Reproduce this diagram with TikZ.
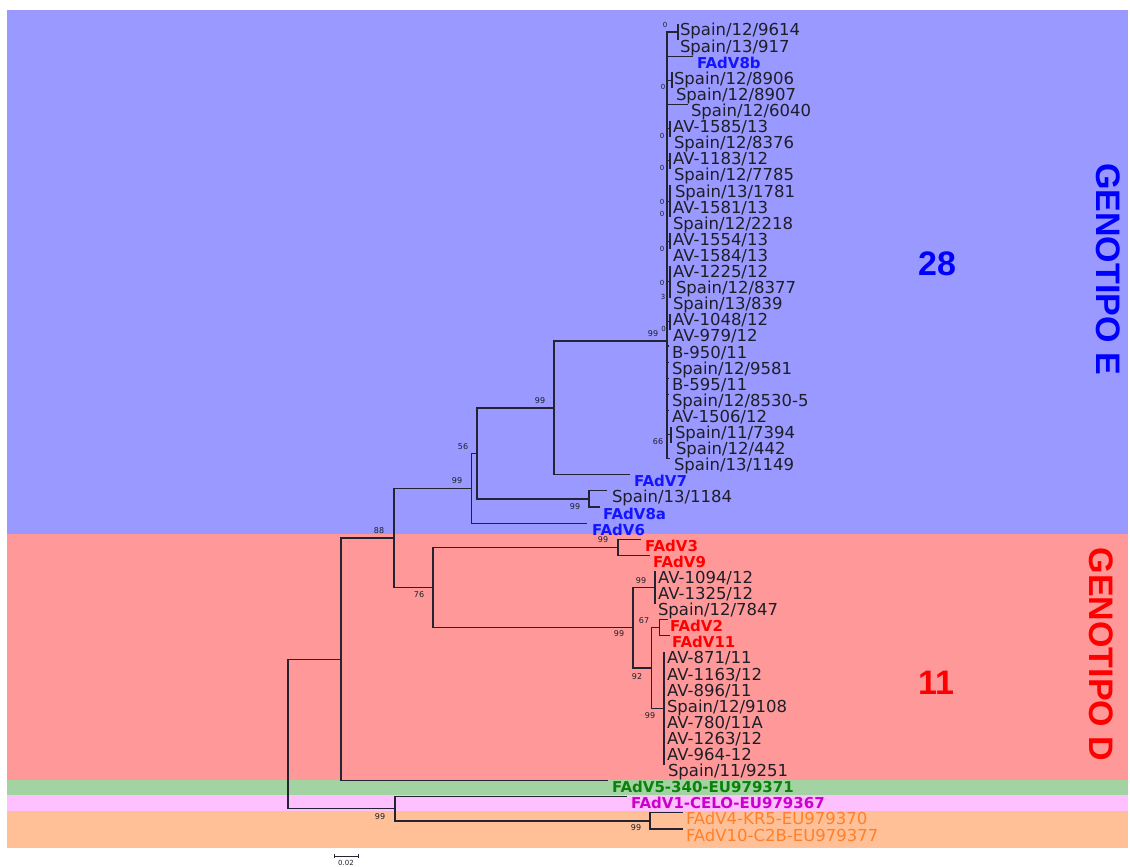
\documentclass[tikz,border=0pt]{standalone}
\usepackage{fontspec}
\setmainfont{DejaVu Sans}
\newfontfamily\gfont{Liberation Sans}
\definecolor{bandblue}{RGB}{153,153,255}
\definecolor{bandred}{RGB}{255,153,153}
\definecolor{bandgreen}{RGB}{163,210,163}
\definecolor{bandpink}{RGB}{255,192,255}
\definecolor{bandorange}{RGB}{255,192,152}
\definecolor{fblue}{RGB}{20,20,255}
\definecolor{fred}{RGB}{255,0,0}
\definecolor{fgreen}{RGB}{10,130,10}
\definecolor{fmag}{RGB}{204,0,204}
\definecolor{forange}{RGB}{255,128,40}
\definecolor{txtc}{RGB}{30,30,40}
\definecolor{treec}{RGB}{35,35,50}
\definecolor{bsc}{RGB}{30,30,40}
% leaf: name, x of line end, row, x of text, style, text
\newcommand\lf[6]{%
  \coordinate (#1) at (#2,{24+16.1*#3});
  \node[#5] (#1t) at (#4,{36+16.1*#3}) {#6};}
\begin{document}
\begin{tikzpicture}[x=1pt,y=-1pt,
  br/.style={draw=treec, line width=1.1pt},
  lab/.style={anchor=base west, inner sep=0pt, outer sep=0pt, text=txtc, font=\fontsize{16.5}{18}\selectfont},
  blab/.style={anchor=base west, inner sep=0pt, outer sep=0pt, font=\fontsize{15}{17}\selectfont\bfseries},
  olab/.style={anchor=base west, inner sep=0pt, outer sep=0pt, text=forange, font=\fontsize{16.5}{18}\selectfont},
  bs/.style={inner sep=0pt, text=bsc, font=\fontsize{8}{9}\selectfont},
  zs/.style={inner sep=0pt, text=bsc, font=\fontsize{7}{8}\selectfont},
  geno/.style={inner sep=0pt, rotate=-90, font=\gfont\bfseries\fontsize{34}{40}\selectfont},
  num/.style={inner sep=0pt, font=\gfont\bfseries\fontsize{34}{40}\selectfont},
]
\useasboundingbox (0,0) rectangle (1130,867);
\fill[white] (0,0) rectangle (1130,867);
% colour bands
\fill[bandblue] (7,10) rectangle (1128,534);
\fill[bandred] (7,534) rectangle (1128,780);
\fill[bandgreen] (7,780) rectangle (1128,795);
\fill[bandpink] (7,795) rectangle (1128,811);
\fill[bandorange] (7,811) rectangle (1128,848);

% internal nodes
\coordinate (R) at (288,734.2);
\coordinate (N342) at (341,659.4);
\coordinate (N395) at (394,538);
\coordinate (N471) at (471.5,488.3);
\coordinate (N477) at (477,453.5);
\coordinate (N554) at (554,408);
\coordinate (M) at (667,341);
\coordinate (N589) at (589,499);
\coordinate (N433) at (433,587.6);
\coordinate (N618) at (618,547.25);
\coordinate (N633) at (633,627.75);
\coordinate (N655) at (655,587.5);
\coordinate (N651) at (651.5,668);
\coordinate (N660) at (659.5,627.75);
\coordinate (N664) at (664,708.25);
\coordinate (Nb395) at (395,808.9);
\coordinate (N650) at (650,821);
\coordinate (T1) at (678,32);
\coordinate (T2) at (672,80.35);
\coordinate (T3) at (670,128.65);
\coordinate (T4) at (670,160.85);
\coordinate (T5) at (670,201.1);
\coordinate (T6) at (670,241.35);
\coordinate (T7) at (670,281.6);
\coordinate (T8) at (670,321.85);
\coordinate (T9) at (671,434.55);

% leaves
\lf{a0}{678}{0}{680}{lab}{Spain/12/9614}
\lf{a1}{678}{1}{680}{lab}{Spain/13/917}
\lf{a2}{693}{2}{697}{blab,text=fblue}{FAdV8b}
\lf{a3}{672}{3}{674}{lab}{Spain/12/8906}
\lf{a4}{672}{4}{676}{lab}{Spain/12/8907}
\lf{a5}{688}{5}{691}{lab}{Spain/12/6040}
\lf{a6}{670}{6}{673}{lab}{AV-1585/13}
\lf{a7}{670}{7}{674}{lab}{Spain/12/8376}
\lf{a8}{670}{8}{673}{lab}{AV-1183/12}
\lf{a9}{670}{9}{674}{lab}{Spain/12/7785}
\lf{a10}{670}{10}{675}{lab}{Spain/13/1781}
\lf{a11}{670}{11}{673}{lab}{AV-1581/13}
\lf{a12}{670}{12}{673}{lab}{Spain/12/2218}
\lf{a13}{670}{13}{673}{lab}{AV-1554/13}
\lf{a14}{670}{14}{673}{lab}{AV-1584/13}
\lf{a15}{670}{15}{673}{lab}{AV-1225/12}
\lf{a16}{670}{16}{676}{lab}{Spain/12/8377}
\lf{a17}{670}{17}{673}{lab}{Spain/13/839}
\lf{a18}{670}{18}{673}{lab}{AV-1048/12}
\lf{a19}{670}{19}{673}{lab}{AV-979/12}
\lf{a20}{668.5}{20}{672}{lab}{B-950/11}
\lf{a21}{668.5}{21}{672}{lab}{Spain/12/9581}
\lf{a22}{668.5}{22}{672}{lab}{B-595/11}
\lf{a23}{668.5}{23}{672}{lab}{Spain/12/8530-5}
\lf{a24}{668.5}{24}{672}{lab}{AV-1506/12}
\lf{a25}{671}{25}{675}{lab}{Spain/11/7394}
\lf{a26}{671}{26}{676}{lab}{Spain/12/442}
\lf{a27}{670}{27}{674}{lab}{Spain/13/1149}
\lf{a28}{630}{28}{634}{blab,text=fblue}{FAdV7}
\lf{a29}{607}{29}{612}{lab}{Spain/13/1184}
\lf{a30}{600}{30}{603}{blab,text=fblue}{FAdV8a}
\lf{a31}{587}{31}{592}{blab,text=fblue}{FAdV6}
\lf{a32}{641}{32}{645}{blab,text=fred}{FAdV3}
\lf{a33}{650}{33}{653}{blab,text=fred}{FAdV9}
\lf{a34}{655}{34}{658}{lab}{AV-1094/12}
\lf{a35}{655}{35}{658}{lab}{AV-1325/12}
\lf{a36}{655}{36}{658}{lab}{Spain/12/7847}
\lf{a37}{668}{37}{670}{blab,text=fred}{FAdV2}
\lf{a38}{670}{38}{672}{blab,text=fred}{FAdV11}
\lf{a39}{664}{39}{667}{lab}{AV-871/11}
\lf{a40}{664}{40}{667}{lab}{AV-1163/12}
\lf{a41}{664}{41}{667}{lab}{AV-896/11}
\lf{a42}{664}{42}{667}{lab}{Spain/12/9108}
\lf{a43}{664}{43}{667}{lab}{AV-780/11A}
\lf{a44}{664}{44}{667}{lab}{AV-1263/12}
\lf{a45}{664}{45}{667}{lab}{AV-964-12}
\lf{a46}{664}{46}{668}{lab}{Spain/11/9251}
\lf{a47}{608}{47}{612}{blab,text=fgreen}{FAdV5-340-EU979371}
\lf{a48}{627}{48}{631}{blab,text=fmag}{FAdV1-CELO-EU979367}
\lf{a49}{683}{49}{686}{olab}{FAdV4-KR5-EU979370}
\lf{a50}{683}{50}{686}{olab}{FAdV10-C2B-EU979377}

% branches
\foreach \p/\c in {R/N342, R/Nb395, N342/N395, N342/a47, N395/N471, N395/N433,
  N471/N477, N471/a31, N477/N554, N477/N589, N554/M, N554/a28, N589/a29, N589/a30,
  M/T1, M/a2, M/T2, M/a5, M/T3, M/T4, M/T5, M/T6, M/T7, M/T8,
  M/a20, M/a21, M/a22, M/a23, M/a24, M/T9, M/a27,
  T1/a0, T1/a1, T2/a3, T2/a4, T3/a6, T3/a7, T4/a8, T4/a9, T5/a10, T5/a11, T5/a12,
  T6/a13, T6/a14, T7/a15, T7/a16, T7/a17, T8/a18, T8/a19, T9/a25, T9/a26,
  N433/N618, N433/N633, N618/a32, N618/a33, N633/N655, N633/N651,
  N655/a34, N655/a35, N655/a36, N651/N660, N651/N664, N660/a37, N660/a38,
  N664/a39, N664/a40, N664/a41, N664/a42, N664/a43, N664/a44, N664/a45, N664/a46,
  Nb395/a48, Nb395/N650, N650/a49, N650/a50}
  {\draw[br] (\p) |- (\c);}

% bootstrap values
\node[bs] (b1) at (379,531) {88};
\node[bs] (b2) at (457,481) {99};
\node[bs] (b3) at (463,447) {56};
\node[bs] (b4) at (540,401) {99};
\node[bs] (b5) at (575,507) {99};
\node[bs] (b6) at (653,334) {99};
\node[bs] (b7) at (658,442) {66};
\node[bs] (b8) at (419,595) {76};
\node[bs] (b9) at (603,540) {99};
\node[bs] (b10) at (641,581) {99};
\node[bs] (b11) at (619,634) {99};
\node[bs] (b12) at (644,621) {67};
\node[bs] (b13) at (637,677) {92};
\node[bs] (b14) at (650,716) {99};
\node[bs] (b15) at (380,817) {99};
\node[bs] (b16) at (636,828) {99};
\node[zs] (z1) at (665,25) {0};
\node[zs] (z2) at (663,87) {0};
\node[zs] (z3) at (662,136) {0};
\node[zs] (z4) at (662,168) {0};
\node[zs] (z5) at (662,202) {0};
\node[zs] (z6) at (662,214) {0};
\node[zs] (z7) at (662,249) {0};
\node[zs] (z8) at (662,283) {0};
\node[zs] (z9) at (663,297) {3};
\node[zs] (z10) at (663.5,329) {0};

% group labels
\node[geno, text=blue] (gE) at (1108.5,269) {GENOTIPO E};
\node[geno, text=red] (gD) at (1101.5,654.5) {GENOTIPO D};
\node[num, text=blue] (n28) at (937,264) {28};
\node[num, text=red] (n11) at (936,683) {11};

% scale bar
\coordinate (sb1) at (334,856);
\coordinate (sb2) at (358,856);
\draw[treec, line width=0.7pt] (sb1) -- (sb2);
\draw[treec, line width=0.7pt] ([yshift=2pt]sb1) -- ([yshift=-2pt]sb1);
\draw[treec, line width=0.7pt] ([yshift=2pt]sb2) -- ([yshift=-2pt]sb2);
\node[inner sep=0pt, text=bsc, font=\fontsize{7}{8}\selectfont] (sbl) at (346,863) {0.02};
\end{tikzpicture}
\end{document}
